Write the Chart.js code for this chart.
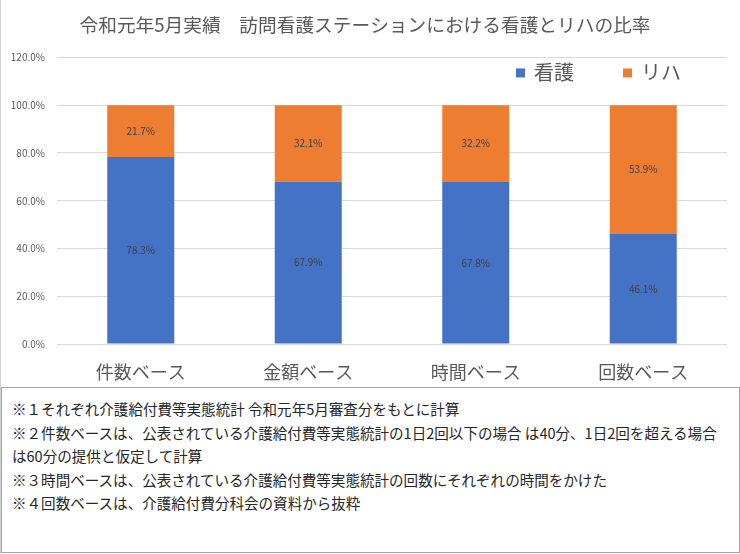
<!DOCTYPE html>
<html>
<head>
<meta charset="utf-8">
<script src="https://cdn.jsdelivr.net/npm/chart.js@4/dist/chart.umd.min.js"></script>
<style>
  body { margin: 0; background: #fff; }
  #wrap { position: relative; width: 740px; height: 554px; box-sizing: border-box; border-left: 1px solid #d0d0d0; }
  #chartBox { width: 739px; height: 387px; }
  #notes {
    box-sizing: border-box; width: 739px; height: 166px;
    border: 1px solid #a6a6a6; padding: 9px 0 0 10px;
    font-family: "Noto Sans CJK JP", sans-serif; font-size: 14.55px; line-height: 23.5px; color: #262626;
    white-space: nowrap;
  }
</style>
</head>
<body>
<div id="wrap">
  <div id="chartBox"><canvas id="c"></canvas></div>
  <div id="notes">
    ※１それぞれ介護給付費等実態統計 令和元年5月審査分をもとに計算<br>
    ※２件数ベースは、公表されている介護給付費等実態統計の1日2回以下の場合 は40分、1日2回を超える場合<br>
    は60分の提供と仮定して計算<br>
    ※３時間ベースは、公表されている介護給付費等実態統計の回数にそれぞれの時間をかけた<br>
    ※４回数ベースは、介護給付費分科会の資料から抜粋
  </div>
</div>
<script>
const categories = ['件数ベース', '金額ベース', '時間ベース', '回数ベース'];
const nursing = [78.3, 67.9, 67.8, 46.1];
const rehab = [21.7, 32.1, 32.2, 53.9];
const yTicks = [0, 20, 40, 60, 80, 100, 120];

const JP = '"Noto Sans CJK JP", sans-serif';

// draw the value inside each bar segment
const valueLabels = {
  id: 'valueLabels',
  afterDatasetsDraw(chart) {
    const ctx = chart.ctx;
    ctx.save();
    ctx.font = '10px ' + JP;
    ctx.fillStyle = '#404040';
    ctx.textAlign = 'center';
    ctx.textBaseline = 'middle';
    chart.data.datasets.forEach((ds, i) => {
      chart.getDatasetMeta(i).data.forEach((bar, j) => {
        const mid = (bar.y + bar.base) / 2;
        ctx.fillText(ds.data[j].toFixed(1) + '%', bar.x, mid);
      });
    });
    ctx.restore();
  }
};

// legend sits inside the plot, top right, like the excel one
const insideLegend = {
  id: 'insideLegend',
  afterDraw(chart) {
    const ctx = chart.ctx;
    const area = chart.chartArea;
    ctx.save();
    ctx.font = '20px ' + JP;
    ctx.textBaseline = 'middle';
    let x = area.right - 211;
    const y = area.top + 15;
    chart.data.datasets.forEach(ds => {
      ctx.fillStyle = ds.backgroundColor;
      ctx.fillRect(x, y - 4, 9, 9);
      x += 18;
      ctx.fillStyle = '#595959';
      ctx.fillText(ds.label, x, y);
      x += ctx.measureText(ds.label).width + 49;
    });
    ctx.restore();
  }
};

new Chart(document.getElementById('c'), {
  type: 'bar',
  data: {
    labels: categories,
    datasets: [
      { label: '看護', data: nursing, backgroundColor: '#4472C4' },
      { label: 'リハ', data: rehab, backgroundColor: '#ED7D31' }
    ]
  },
  options: {
    responsive: true,
    maintainAspectRatio: false,
    animation: false,
    barPercentage: 0.4,
    categoryPercentage: 1,
    layout: { padding: { left: 2, right: 13, top: 14, bottom: 0 } },
    plugins: {
      title: {
        display: true,
        text: '令和元年5月実績　訪問看護ステーションにおける看護とリハの比率',
        color: '#595959',
        font: { family: JP, size: 18.7, weight: 'normal' },
        padding: { top: 0, bottom: 21 }
      },
      legend: { display: false },
      tooltip: { enabled: false }
    },
    scales: {
      x: {
        stacked: true,
        grid: { display: false },
        border: { display: false },
        ticks: { color: '#595959', font: { family: JP, size: 18 }, padding: 9 },
        afterFit(axis) { axis.height = 43; }
      },
      y: {
        stacked: true,
        min: 0,
        max: 120,
        afterBuildTicks(axis) { axis.ticks = yTicks.map(v => ({ value: v })); },
        grid: { color: '#d9d9d9', drawTicks: false },
        border: { display: false },
        ticks: {
          color: '#595959',
          font: { family: JP, size: 10 },
          padding: 12,
          callback: v => v.toFixed(1) + '%'
        },
        afterFit(axis) { axis.width = 54; }
      }
    }
  },
  plugins: [valueLabels, insideLegend]
});
</script>
</body>
</html>
